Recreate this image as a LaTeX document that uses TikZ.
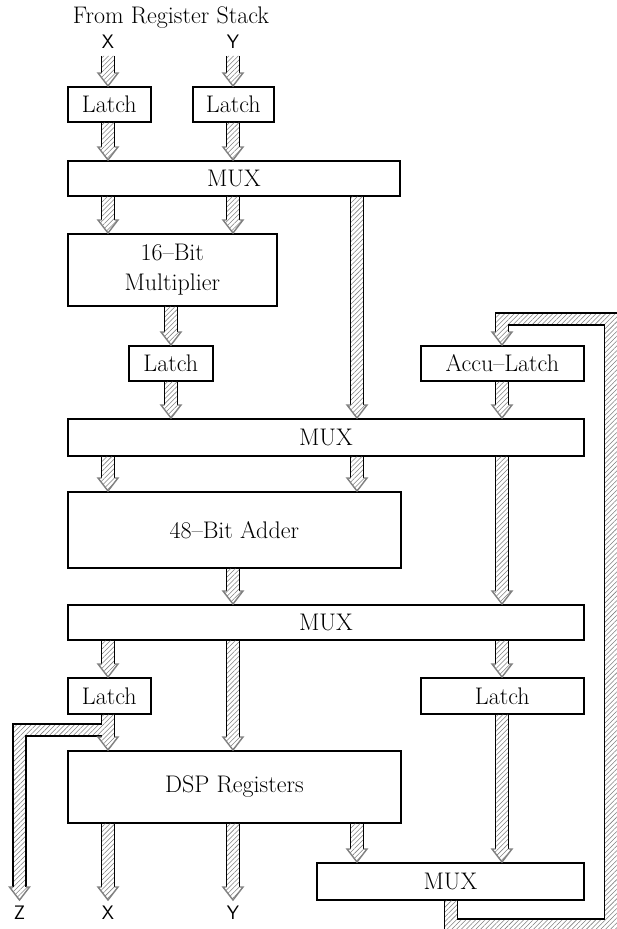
\documentclass[tikz,border=0pt]{standalone}
\usetikzlibrary{calc,patterns.meta}
\tikzset{
  box/.style={draw, line width=1.7pt, anchor=north west, inner sep=0pt,
    font=\fontsize{24}{30}\selectfont},
  hatch/.style={pattern={Lines[angle=45,distance=3.4pt,line width=0.55pt]}, pattern color=black!50},
  busedge/.style={line width=1.8pt},
  headline/.style={draw=black!50, line width=1.4pt, line join=miter},
  lab/.style={font=\sffamily\fontsize{19.5}{22}\selectfont, inner sep=0pt},
  toplab/.style={font=\fontsize{24}{28}\selectfont, inner sep=0pt},
}
\newcommand\bus[2]{%
  \path #1 coordinate (bT) #2 coordinate (bB);
  \fill[hatch] ($(bT)+(-6.5,0)$) -- ($(bB)+(-6.5,-13)$) -- ($(bB)+(-10,-13)$) -- (bB)
    -- ($(bB)+(10,-13)$) -- ($(bB)+(6.5,-13)$) -- ($(bT)+(6.5,0)$) -- cycle;
  \draw[busedge] ($(bT)+(-6.5,0)$) -- ($(bB)+(-6.5,-13)$) ($(bT)+(6.5,0)$) -- ($(bB)+(6.5,-13)$);
  \draw[headline] ($(bB)+(-6.5,-13)$) -- ($(bB)+(-10,-13)$) -- (bB) -- ($(bB)+(10,-13)$) -- ($(bB)+(6.5,-13)$);
}
\begin{document}
\begin{tikzpicture}[x=1pt,y=-1pt]
\clip (0,0) rectangle (617,929);
\fill[white] (0,0) rectangle (617,929);
% columns
\coordinate (cA) at (108,0);
\coordinate (cB) at (233,0);
\coordinate (cC) at (357,0);
\coordinate (cM) at (171,0);
\coordinate (cD) at (502,0);
\coordinate (cZ) at (19.5,0);
\coordinate (cF) at (451,0);
% labels
\node[toplab] (src) at (171,18) {From Register Stack};
\node[lab] (inX) at (108,42) {X};
\node[lab] (inY) at (233,42) {Y};
\node[lab] (outZ) at (19.5,913) {Z};
\node[lab] (outX) at (108,913) {X};
\node[lab] (outY) at (233,913) {Y};
% boxes
\node[box, minimum width=83pt, minimum height=35pt] (latchA) at (67,86) {Latch};
\node[box, minimum width=81pt, minimum height=35pt] (latchB) at (192,86) {Latch};
\node[box, minimum width=332pt, minimum height=35pt] (mux1) at (67,160) {MUX};
\node[box, minimum width=209pt, minimum height=72pt, align=center] (mult) at (67,233) {16--Bit\\Multiplier};
\node[box, minimum width=84pt, minimum height=35pt] (latchC) at (128,345) {Latch};
\node[box, minimum width=163pt, minimum height=35pt] (accu) at (420,345) {Accu--Latch};
\node[box, minimum width=516pt, minimum height=37pt] (mux2) at (67,418) {MUX};
\node[box, minimum width=333pt, minimum height=76pt] (adder) at (67,491) {48--Bit Adder};
\node[box, minimum width=516pt, minimum height=35pt] (mux3) at (67,604) {MUX};
\node[box, minimum width=83pt, minimum height=36pt] (latchD) at (67,677) {Latch};
\node[box, minimum width=163pt, minimum height=36pt] (latchE) at (420,677) {Latch};
\node[box, minimum width=333pt, minimum height=72pt] (dsp) at (67,750) {DSP Registers};
\node[box, minimum width=267pt, minimum height=37pt] (mux4) at (316,862) {MUX};
% buses
\bus{($(inX.south)+(0,7)$)}{(latchA.north -| cA)}
\bus{($(inY.south)+(0,7)$)}{(latchB.north -| cB)}
\bus{(latchA.south -| cA)}{(mux1.north -| cA)}
\bus{(latchB.south -| cB)}{(mux1.north -| cB)}
\bus{(mux1.south -| cA)}{(mult.north -| cA)}
\bus{(mux1.south -| cB)}{(mult.north -| cB)}
\bus{(mux1.south -| cC)}{(mux2.north -| cC)}
\bus{(mult.south -| cM)}{(latchC.north -| cM)}
\bus{(latchC.south -| cM)}{(mux2.north -| cM)}
\bus{(accu.south -| cD)}{(mux2.north -| cD)}
\bus{(mux2.south -| cA)}{(adder.north -| cA)}
\bus{(mux2.south -| cC)}{(adder.north -| cC)}
\bus{(mux2.south -| cD)}{(mux3.north -| cD)}
\bus{(adder.south -| cB)}{(mux3.north -| cB)}
\bus{(mux3.south -| cA)}{(latchD.north -| cA)}
\bus{(mux3.south -| cB)}{(dsp.north -| cB)}
\bus{(mux3.south -| cD)}{(latchE.north -| cD)}
\bus{(latchE.south -| cD)}{(mux4.north -| cD)}
\bus{(dsp.south -| cC)}{(mux4.north -| cC)}
\bus{(dsp.south -| cA)}{($(outX.north)+(0,-6)$)}
\bus{(dsp.south -| cB)}{($(outY.north)+(0,-6)$)}
% latch -> DSP with branch to Z
\coordinate (P) at (latchD.south -| cA);
\coordinate (Q) at (dsp.north -| cA);
\coordinate (Zt) at ($(outZ.north)+(0,-6)$);
\coordinate (Zb) at (Zt |- P);
\fill[hatch] ($(P)+(-6.5,0)$) -- ($(P)+(-6.5,9)$) -- ($(Zb)+(-6.5,9)$) -- ($(Zt)+(-6.5,-13)$)
  -- ($(Zt)+(-10,-13)$) -- (Zt) -- ($(Zt)+(10,-13)$) -- ($(Zt)+(6.5,-13)$)
  -- ($(Zb)+(6.5,21)$) -- ($(P)+(-6.5,21)$) -- ($(Q)+(-6.5,-13)$) -- ($(Q)+(-10,-13)$)
  -- (Q) -- ($(Q)+(10,-13)$) -- ($(Q)+(6.5,-13)$) -- ($(P)+(6.5,0)$) -- cycle;
\draw[busedge] ($(P)+(-6.5,0)$) -- ($(P)+(-6.5,9)$) -- ($(Zb)+(-6.5,9)$) -- ($(Zt)+(-6.5,-13)$);
\draw[busedge] ($(Zt)+(6.5,-13)$) -- ($(Zb)+(6.5,21)$) -- ($(P)+(-6.5,21)$) -- ($(Q)+(-6.5,-13)$);
\draw[busedge] ($(P)+(6.5,0)$) -- ($(Q)+(6.5,-13)$);
\draw[headline] ($(Zt)+(-6.5,-13)$) -- ($(Zt)+(-10,-13)$) -- (Zt) -- ($(Zt)+(10,-13)$) -- ($(Zt)+(6.5,-13)$);
\draw[headline] ($(Q)+(-6.5,-13)$) -- ($(Q)+(-10,-13)$) -- (Q) -- ($(Q)+(10,-13)$) -- ($(Q)+(6.5,-13)$);
% feedback MUX -> Accu-Latch
\coordinate (F0) at (mux4.south -| cF);
\coordinate (A0) at (accu.north -| cD);
\coordinate (oBL) at ($(F0)+(-6.5,29)$);
\coordinate (iBL) at ($(F0)+(6.5,18)$);
\coordinate (oBR) at ($(oBL)+(185,0)$);
\coordinate (iBR) at ($(iBL)+(147,0)$);
\coordinate (oTL) at ($(A0)+(-6.5,-32)$);
\coordinate (iTL) at ($(A0)+(6.5,-20)$);
\coordinate (oTR) at (oBR |- oTL);
\coordinate (iTR) at (iBR |- iTL);
\fill[hatch] ($(F0)+(-6.5,0)$) -- (oBL) -- (oBR) -- (oTR) -- (oTL) -- ($(A0)+(-6.5,-13)$)
  -- ($(A0)+(-10,-13)$) -- (A0) -- ($(A0)+(10,-13)$) -- ($(A0)+(6.5,-13)$)
  -- (iTL) -- (iTR) -- (iBR) -- (iBL) -- ($(F0)+(6.5,0)$) -- cycle;
\draw[busedge] ($(F0)+(-6.5,0)$) -- (oBL) -- (oBR);
\draw[busedge] ($(A0)+(-6.5,-13)$) -- (oTL) -- (oTR);
\draw[busedge] ($(A0)+(6.5,-13)$) -- (iTL) -- (iTR) -- (iBR) -- (iBL) -- ($(F0)+(6.5,0)$);
\draw[headline] ($(A0)+(-6.5,-13)$) -- ($(A0)+(-10,-13)$) -- (A0) -- ($(A0)+(10,-13)$) -- ($(A0)+(6.5,-13)$);
\end{tikzpicture}
\end{document}
